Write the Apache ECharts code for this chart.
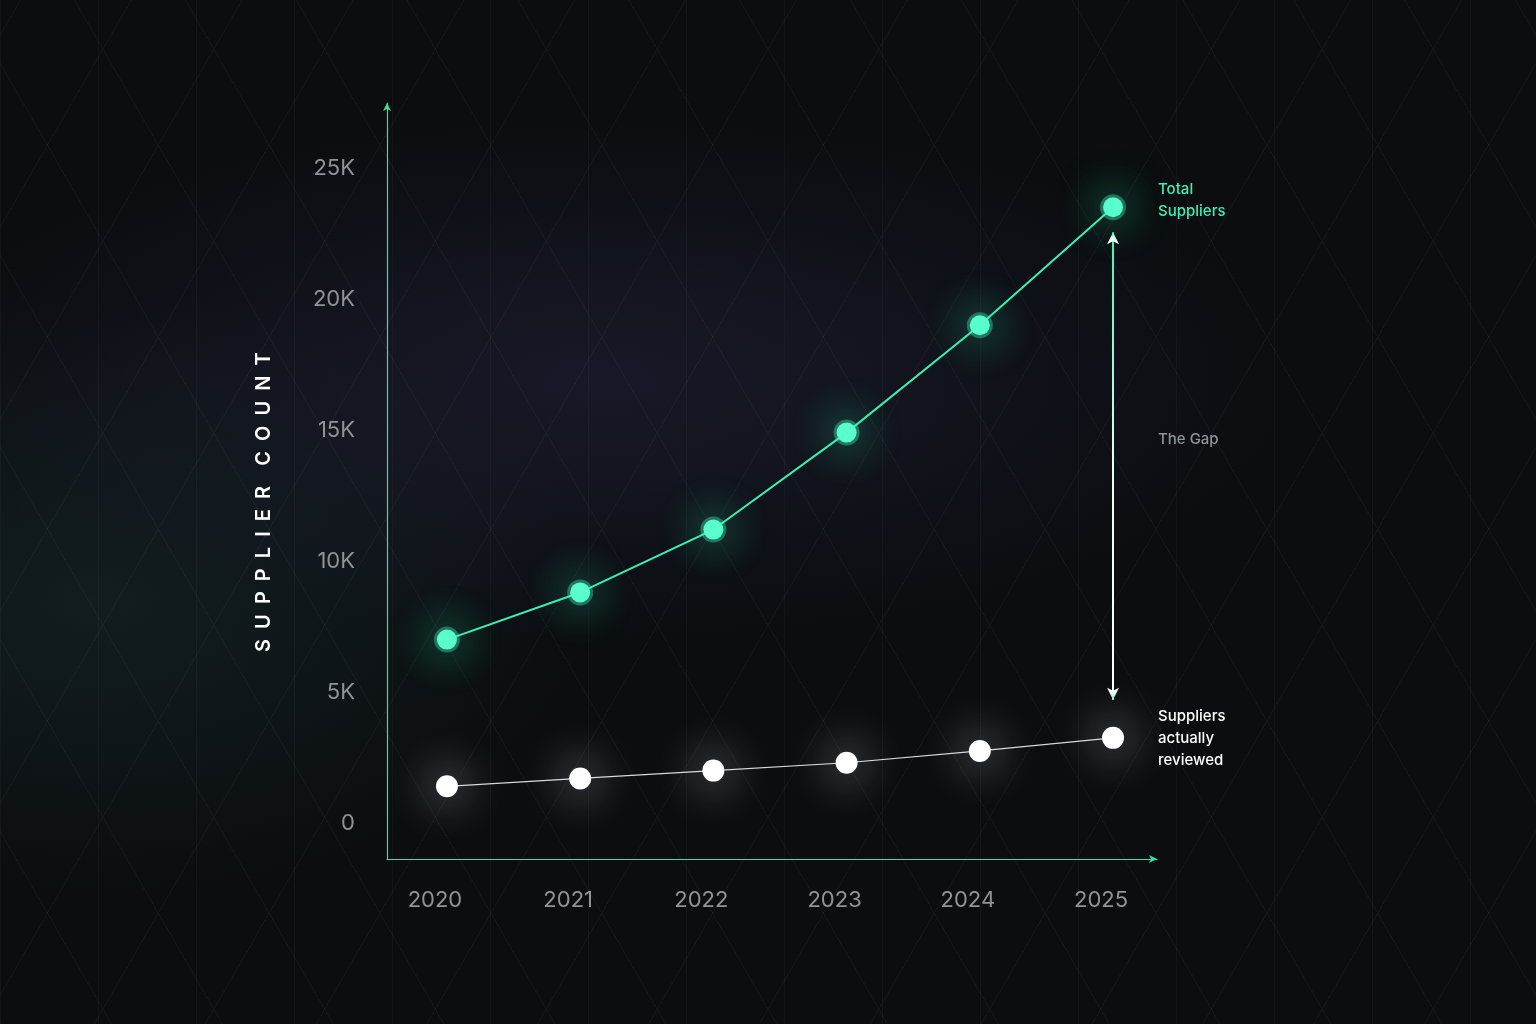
<!DOCTYPE html>
<html>
<head>
<meta charset="utf-8">
<script src="https://cdn.jsdelivr.net/npm/echarts@6/dist/echarts.min.js"></script>
<style>
html, body { margin: 0; height: 100%; }
body {
    background:
        radial-gradient(ellipse 700px 260px at 600px 380px, rgba(40,40,70,0.45), transparent),
        radial-gradient(ellipse 500px 300px at 100px 600px, rgba(30,60,60,0.35), transparent),
        #0b0d10;
}
#chart {
    width: 1536px; height: 1024px;
    background-image:
        repeating-linear-gradient(60deg, rgba(255,255,255,0.035) 0 1px, transparent 1px 96px),
        repeating-linear-gradient(-60deg, rgba(255,255,255,0.035) 0 1px, transparent 1px 96px),
        repeating-linear-gradient(90deg, rgba(255,255,255,0.03) 0 1px, transparent 1px 98px);
}
</style>
</head>
<body>
<div id="chart"></div>
<script>
const years = ['2020', '2021', '2022', '2023', '2024', '2025'];
const totalSuppliers = [7000, 8800, 11200, 14900, 19000, 23500];
const reviewedSuppliers = [1400, 1700, 2000, 2300, 2750, 3250];
const yTicks = [0, 5000, 10000, 15000, 20000, 25000];

const axisColor = '#3ddc9f';
const labelFont = { color: '#8f9496', fontSize: 22, fontFamily: 'Inter' };

const chart = echarts.init(document.getElementById('chart'));
chart.setOption({
    animation: false,
    grid: { left: 387, right: 379, top: 103, bottom: 165 },
    xAxis: {
        type: 'value',
        min: -0.45, max: 5.33,
        splitLine: { show: false },
        axisTick: { show: false },
        axisLine: { onZero: false, lineStyle: { color: axisColor, width: 1.2 }, symbol: ['none', 'arrow'], symbolSize: [6, 8] },
        axisLabel: {
            ...labelFont,
            customValues: [0, 1, 2, 3, 4, 5],
            formatter: v => years[Math.round(v)],
            margin: 30,
            padding: [0, 24, 0, 0]
        }
    },
    yAxis: {
        type: 'value',
        min: -1374, max: 27481,
        splitLine: { show: false },
        axisTick: { show: false },
        axisLine: { show: true, onZero: false, lineStyle: { color: axisColor, width: 1.2 }, symbol: ['none', 'arrow'], symbolSize: [6, 8] },
        axisLabel: {
            ...labelFont,
            customValues: yTicks,
            formatter: v => v === 0 ? '0' : (v / 1000) + 'K',
            margin: 32
        }
    },
    series: [
        {
            type: 'line',
            data: totalSuppliers.map((v, i) => [i, v]),
            symbol: 'circle',
            symbolSize: 20,
            lineStyle: { color: '#3df0b4', width: 2 },
            itemStyle: { color: '#5dffd0', borderColor: 'rgba(80,255,200,0.35)', borderWidth: 6, shadowColor: 'rgba(40,240,170,1)', shadowBlur: 45 },
            markLine: {
                silent: true,
                symbol: ['none', 'none'],
                label: { show: false },
                data: [[
                    { coord: [5, 22550], symbol: 'arrow', symbolSize: [9, 12], itemStyle: { color: '#3df0b4' } },
                    { coord: [5, 4700], symbol: 'arrow', symbolSize: [9, 12], itemStyle: { color: '#ffffff' } }
                ]],
                lineStyle: {
                    type: 'solid', width: 2,
                    color: new echarts.graphic.LinearGradient(0, 0, 0, 1, [
                        { offset: 0, color: '#3df0b4' }, { offset: 0.5, color: '#e8fff6' }, { offset: 1, color: '#ffffff' }
                    ])
                }
            }
        },
        {
            type: 'line',
            data: reviewedSuppliers.map((v, i) => [i, v]),
            symbol: 'circle',
            symbolSize: 22,
            lineStyle: { color: '#d8d8d8', width: 1.2 },
            itemStyle: { color: '#ffffff', shadowColor: 'rgba(255,255,255,0.9)', shadowBlur: 45 }
        }
    ],
    graphic: [
        { type: 'text', left: 1158, top: 178, style: { text: 'Total\nSuppliers', fill: '#3df0b4', font: '500 15px Inter', lineHeight: 22 } },
        { type: 'text', left: 1158, top: 432, style: { text: 'The Gap', fill: '#8f9496', font: '500 15px Inter' } },
        { type: 'text', left: 1158, top: 705, style: { text: 'Suppliers\nactually\nreviewed', fill: '#ffffff', font: '500 15px Inter', lineHeight: 22 } },
        { type: 'text', x: 254, y: 652, rotation: Math.PI / 2,
          style: { text: 'S  U  P  P  L  I  E  R    C  O  U  N  T', fill: '#ffffff', font: '600 20px Inter' } }
    ]
});
</script>
</body>
</html>
